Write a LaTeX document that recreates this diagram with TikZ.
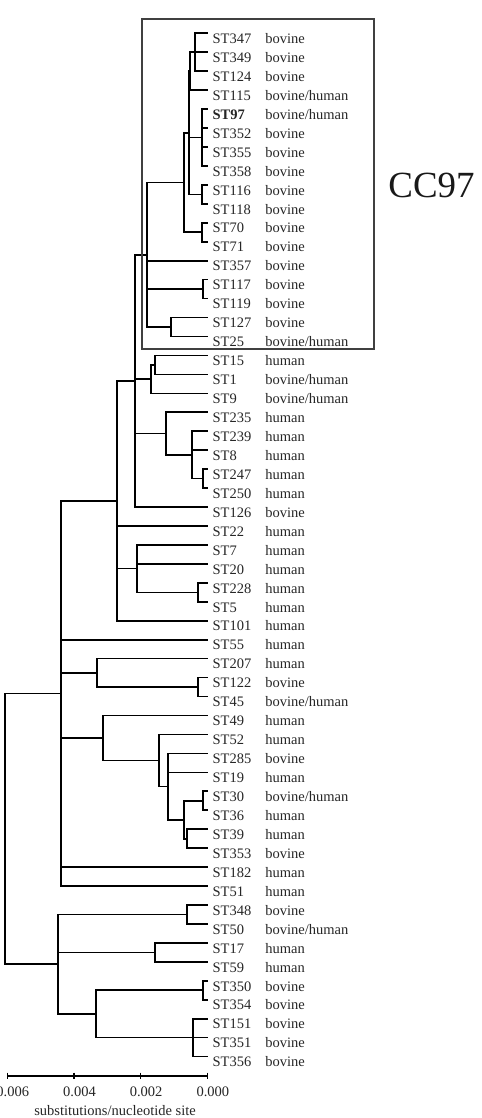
\documentclass[tikz,border=0pt]{standalone}
\usepackage{fontspec}
\setmainfont{Liberation Serif}
\usetikzlibrary{calc}
\tikzset{
  branch/.style={draw=black, line width=0.95pt},
  stlabel/.style={anchor=base west, inner sep=0pt, font=\fontsize{8.25}{10}\selectfont, text=black!85},
  hostlabel/.style={stlabel},
  cladebox/.style={draw=black!75, line width=0.6pt},
  cclabel/.style={inner sep=0pt, font=\fontsize{21}{24}\selectfont, text=black!90},
  scalebar/.style={draw=black, line width=0.9pt},
  ticklabel/.style={inner sep=0pt, font=\fontsize{8.25}{10}\selectfont, text=black!85},
  axistitle/.style={anchor=base, inner sep=0pt, font=\fontsize{8.25}{10}\selectfont, text=black!85},
}

\begin{document}
\begin{tikzpicture}[x=0.02cm, y=-0.02cm]
  \useasboundingbox (0,0) rectangle (482,1118);

  % Leaves: tip, sequence type, host
  \foreach \stid/\host [count=\i from 0] in {347/bovine, 349/bovine, 124/bovine, 115/{bovine/human},
      97/{bovine/human}, 352/bovine, 355/bovine, 358/bovine, 116/bovine, 118/bovine, 70/bovine,
      71/bovine, 357/bovine, 117/bovine, 119/bovine, 127/bovine, 25/{bovine/human}, 15/human,
      1/{bovine/human}, 9/{bovine/human}, 235/human, 239/human, 8/human, 247/human, 250/human,
      126/bovine, 22/human, 7/human, 20/human, 228/human, 5/human, 101/human, 55/human,
      207/human, 122/bovine, 45/{bovine/human}, 49/human, 52/human, 285/bovine, 19/human,
      30/{bovine/human}, 36/human, 39/human, 353/bovine, 182/human, 51/human, 348/bovine,
      50/{bovine/human}, 17/human, 59/human, 350/bovine, 354/bovine, 151/bovine, 351/bovine,
      356/bovine}
  {
    \coordinate (st\stid) at (207.5, {33.3+18.95*\i});
    \node[stlabel] (lab\stid) at ($(st\stid)+(4.8,10.2)$) {\ifnum\stid=97 \textbf{ST\stid}\else ST\stid\fi};
    \node[hostlabel] (host\stid) at ($(st\stid)+(57.5,10.2)$) {\host};
  }

  % Internal nodes (CC97)
  \coordinate (n347-124) at (195, 52.25);
  \coordinate (n347-115) at (190, 71.2);
  \coordinate (n97-358)  at (202, 137.53);
  \coordinate (n116-118) at (202, 194.38);
  \coordinate (n347-118) at (189, 132.79);
  \coordinate (n70-71)   at (202, 232.28);
  \coordinate (n347-71)  at (184, 182.53);
  \coordinate (n117-119) at (203, 289.13);
  \coordinate (n127-25)  at (171, 327.03);
  \coordinate (cc97)     at (147, 254.78);

  % Internal nodes (rest)
  \coordinate (n15-1)    at (155, 364.93);
  \coordinate (n15-9)    at (151, 379.14);
  \coordinate (n247-250) at (203, 478.63);
  \coordinate (n239-250) at (192, 454.94);
  \coordinate (n235-250) at (166, 433.62);
  \coordinate (n347-126) at (135, 380.92);
  \coordinate (n228-5)   at (198, 592.33);
  \coordinate (n7-5)     at (137, 568.64);
  \coordinate (n347-101) at (117, 500.83);
  \coordinate (n122-45)  at (198, 687.08);
  \coordinate (n207-45)  at (97, 672.86);
  \coordinate (n30-36)   at (203, 800.78);
  \coordinate (n39-353)  at (187, 838.68);
  \coordinate (n30-353)  at (184, 819.73);
  \coordinate (n285-353) at (168, 786.56);
  \coordinate (n52-353)  at (159, 760.51);
  \coordinate (n49-353)  at (103, 738.0);
  \coordinate (n347-51)  at (61, 693.44);
  \coordinate (n348-50)  at (187, 914.48);
  \coordinate (n17-59)   at (155, 952.38);
  \coordinate (n350-354) at (203, 990.28);
  \coordinate (n151-356) at (193, 1037.65);
  \coordinate (n350-356) at (96, 1013.96);
  \coordinate (n348-356) at (58, 964.22);
  \coordinate (root)     at (5, 828.83);

  % Branches
  \foreach \parent/\child in {n347-124/st347, n347-124/st349, n347-124/st124,
      n347-115/n347-124, n347-115/st115,
      n97-358/st97, n97-358/st352, n97-358/st355, n97-358/st358,
      n116-118/st116, n116-118/st118,
      n347-118/n347-115, n347-118/n97-358, n347-118/n116-118,
      n70-71/st70, n70-71/st71,
      n347-71/n347-118, n347-71/n70-71,
      n117-119/st117, n117-119/st119,
      n127-25/st127, n127-25/st25,
      cc97/n347-71, cc97/st357, cc97/n117-119, cc97/n127-25,
      n15-1/st15, n15-1/st1, n15-9/n15-1, n15-9/st9,
      n247-250/st247, n247-250/st250,
      n239-250/st239, n239-250/st8, n239-250/n247-250,
      n235-250/st235, n235-250/n239-250,
      n347-126/cc97, n347-126/n15-9, n347-126/n235-250, n347-126/st126,
      n228-5/st228, n228-5/st5,
      n7-5/st7, n7-5/st20, n7-5/n228-5,
      n347-101/n347-126, n347-101/st22, n347-101/n7-5, n347-101/st101,
      n122-45/st122, n122-45/st45, n207-45/st207, n207-45/n122-45,
      n30-36/st30, n30-36/st36, n39-353/st39, n39-353/st353,
      n30-353/n30-36, n30-353/n39-353,
      n285-353/st285, n285-353/st19, n285-353/n30-353,
      n52-353/st52, n52-353/n285-353,
      n49-353/st49, n49-353/n52-353,
      n347-51/n347-101, n347-51/st55, n347-51/n207-45, n347-51/n49-353,
      n347-51/st182, n347-51/st51,
      n348-50/st348, n348-50/st50, n17-59/st17, n17-59/st59,
      n350-354/st350, n350-354/st354,
      n151-356/st151, n151-356/st351, n151-356/st356,
      n350-356/n350-354, n350-356/n151-356,
      n348-356/n348-50, n348-356/n17-59, n348-356/n350-356,
      root/n347-51, root/n348-356}
    \draw[branch] (\parent) |- (\child);

  % CC97 frame
  \draw[cladebox] (142,19) rectangle (374,349);
  \node[cclabel] (cc97lab) at (431.5,185) {CC97};

  % Scale bar
  \coordinate (bar0) at (7.3,1075.7);
  \coordinate (bar3) at (207.3,1075.7);
  \draw[scalebar] (bar0) -- (bar3);
  \foreach \v [count=\k from 0] in {0.006,0.004,0.002,0.000} {
    \coordinate (tick\k) at ({7.3+66.67*\k},1075.7);
    \draw[scalebar] ($(tick\k)+(0,-3)$) -- ($(tick\k)+(0,3)$);
    \node[ticklabel] (val\k) at ($(tick\k)+(5.5,16.5)$) {\v};
  }
  \node[axistitle] (unit) at (115,1115) {substitutions/nucleotide site};

\end{tikzpicture}
\end{document}
